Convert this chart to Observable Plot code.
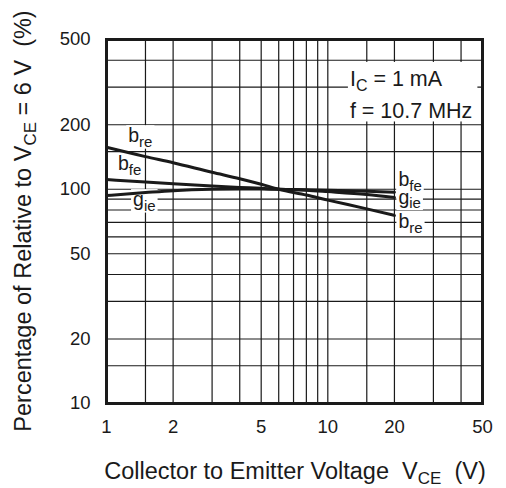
<!DOCTYPE html>
<html><head><meta charset="utf-8">
<script src="https://cdn.jsdelivr.net/npm/d3@7"></script>
<script src="https://cdn.jsdelivr.net/npm/@observablehq/plot@0.6"></script>
<style>body{margin:0;background:#fff} svg{font-family:"Liberation Sans",Arial,sans-serif}</style>
</head><body><div id="chart"></div>
<script>
// Data
const vce = [1, 1.5, 2, 3, 4, 5, 6, 8, 10, 15, 20];
const bre = [157, 142, 133, 120, 112, 105.5, 100, 94, 89, 81, 75.5];
const bfe = [111, 108, 106, 103.5, 102, 101, 100, 99.5, 99, 98, 96.8];
const gie = [93.5, 96.5, 98.5, 100, 100.3, 100.2, 100, 99, 97.5, 94.5, 91.5];
const xTicks = [1, 2, 5, 10, 20, 50];
const yTicks = [10, 20, 50, 100, 200, 500];
const xGrid = [1, 1.5, 2, 3, 4, 5, 6, 7, 8, 9, 10, 15, 20, 30, 40, 50];
const yGrid = [10, 15, 20, 30, 40, 50, 60, 70, 80, 90, 100, 150, 200, 300, 400, 500];

const series = [
  {name: "bre", values: bre},
  {name: "bfe", values: bfe},
  {name: "gie", values: gie}
];
const rows = series.flatMap(s => vce.map((v, i) => ({series: s.name, x: v, y: s.values[i]})));

const ink = "#1a1a1a";
const plot = Plot.plot({
  width: 506, height: 488,
  marginLeft: 106, marginRight: 24, marginTop: 39, marginBottom: 85,
  style: {fontFamily: '"Liberation Sans", Arial, sans-serif', fontSize: "18.5px", color: ink, background: "#fff"},
  x: {type: "log", domain: [1, 50], axis: null},
  y: {type: "log", domain: [10, 500], axis: null},
  marks: [
    Plot.ruleX(xGrid, {stroke: ink, strokeWidth: 1.2}),
    Plot.ruleY(yGrid, {stroke: ink, strokeWidth: 1.2}),
    Plot.line(rows, {x: "x", y: "y", z: "series", stroke: ink, strokeWidth: 3, curve: "monotone-x"}),
    Plot.frame({stroke: ink, strokeWidth: 3}),
    Plot.text(xTicks, {x: d => d, text: d => String(d), frameAnchor: "bottom", lineAnchor: "top", dy: 16, fontSize: 18.5, fill: ink}),
    Plot.text(yTicks, {y: d => d, text: d => String(d), frameAnchor: "left", textAnchor: "end", dx: -16, fontSize: 18.5, fill: ink})
  ]
});
document.getElementById("chart").appendChild(plot);

const svg = d3.select(plot);
const sx = plot.scale("x"), sy = plot.scale("y");
// labels sit above the grid but below the curves
const layer = svg.insert("g", '[aria-label="line"]');
const boxLayer = layer.append("g");
const textLayer = layer.append("g");

function richText(g, x, y, parts, opts = {}) {
  const size = opts.size || 19.5, sub = opts.sub || 15, shift = opts.shift || 4.5;
  const t = g.append("text").attr("x", x).attr("y", y)
    .attr("font-size", size).attr("fill", ink)
    .attr("text-anchor", opts.anchor || "start");
  if (opts.transform) t.attr("transform", opts.transform);
  let down = false;
  parts.forEach(([str, isSub]) => {
    const ts = t.append("tspan").text(str);
    if (isSub && !down) { ts.attr("dy", shift).attr("font-size", sub); down = true; }
    else if (!isSub && down) { ts.attr("dy", -shift); down = false; }
    else if (isSub) ts.attr("font-size", sub);
  });
  return t;
}
function boxed(x, y, parts, pad = [2, -1]) {
  const t = richText(textLayer, x, y, parts);
  const b = t.node().getBBox();
  boxLayer.append("rect").attr("x", b.x - pad[0]).attr("y", b.y - pad[1])
    .attr("width", b.width + 2 * pad[0]).attr("height", b.height + 2 * pad[1]).attr("fill", "#fff");
}

// curve labels (positions in data units)
boxed(sx.apply(1.26), sy.apply(165), [["b"], ["re", true]]);
boxed(sx.apply(1.133), sy.apply(122), [["b"], ["fe", true]]);
boxed(sx.apply(1.325), sy.apply(83), [["g"], ["ie", true]]);
boxed(sx.apply(20.95), sy.apply(103), [["b"], ["fe", true]]);
boxed(sx.apply(20.95), sy.apply(85.3), [["g"], ["ie", true]]);
boxed(sx.apply(20.95), sy.apply(65.4), [["b"], ["re", true]]);

// condition annotation
{
  const o = {size: 21.5, sub: 16, shift: 5};
  const t1 = richText(textLayer, sx.apply(12.65), sy.apply(302), [["I"], ["C", true], [" = 1 mA"]], o);
  const t2 = richText(textLayer, sx.apply(12.65), sy.apply(214), [["f = 10.7 MHz"]], o);
  const b1 = t1.node().getBBox(), b2 = t2.node().getBBox();
  const x0 = Math.min(b1.x, b2.x) - 2, x1 = Math.max(b1.x + b1.width, b2.x + b2.width) + 5;
  const y0 = b1.y - 5, y1 = b2.y + b2.height - 1.5;
  boxLayer.append("rect").attr("x", x0).attr("y", y0).attr("width", x1 - x0).attr("height", y1 - y0).attr("fill", "#fff");
}

// axis titles
richText(svg, 295, 479, [["Collector to Emitter Voltage\u00a0\u00a0V"], ["CE", true], ["\u00a0\u00a0(V)"]], {anchor: "middle", size: 23.5, sub: 17, shift: 5});
richText(svg, 0, 0, [["Percentage of Relative to V"], ["CE", true], [" = 6 V\u00a0\u00a0(%)"]],
  {anchor: "middle", size: 23.5, sub: 17, shift: 5, transform: "translate(31,221) rotate(-90)"});
</script>
</body></html>
